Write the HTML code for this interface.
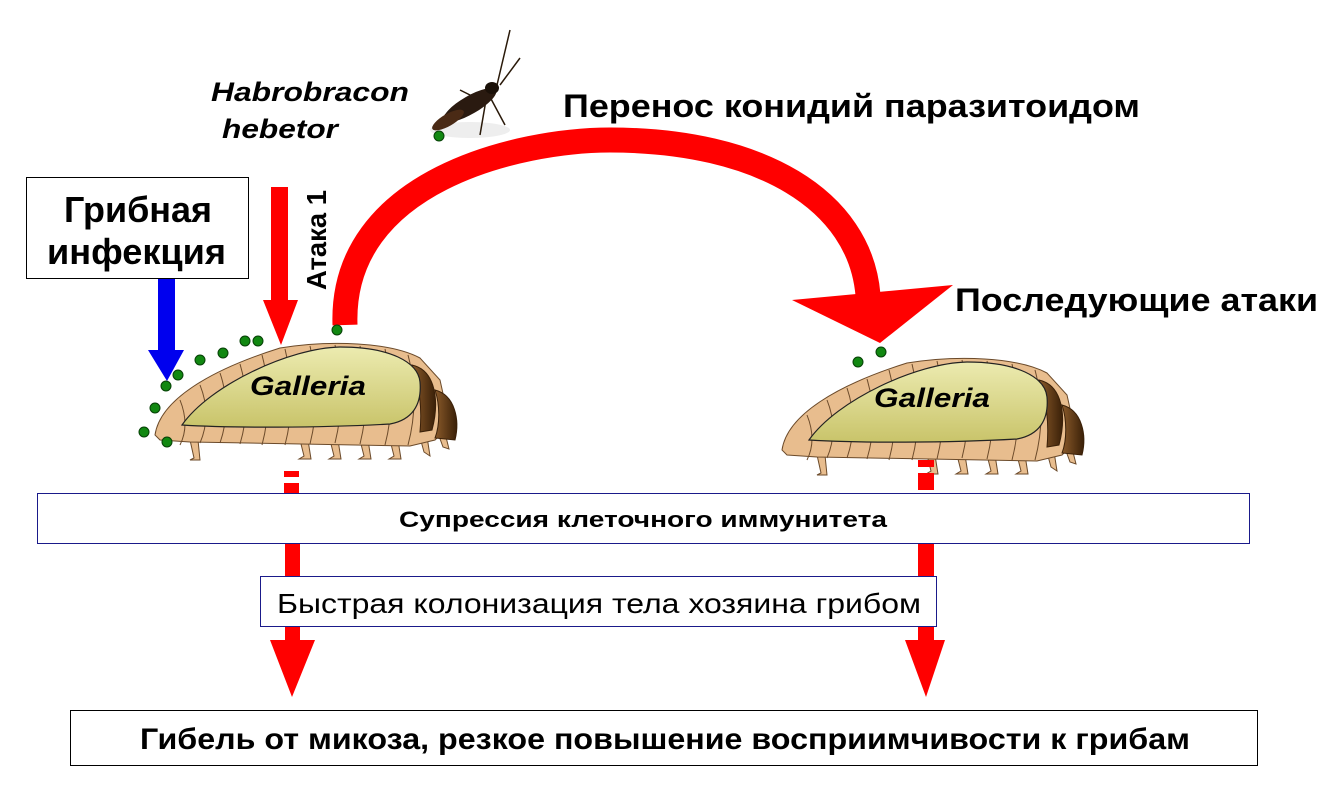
<!DOCTYPE html>
<html><head><meta charset="utf-8"><style>
body{margin:0;background:#fff}
svg{display:block}
text{font-family:"Liberation Sans",Arial,sans-serif}
</style></head><body>
<svg width="1320" height="802" viewBox="0 0 1320 802" xmlns="http://www.w3.org/2000/svg">
<defs>
<linearGradient id="yl" x1="0" y1="0" x2="0" y2="1"><stop offset="0" stop-color="#ecebb0"/><stop offset="1" stop-color="#c9c46a"/></linearGradient>
<linearGradient id="br" x1="0" y1="0" x2="1" y2="0"><stop offset="0" stop-color="#8a5a2a"/><stop offset="1" stop-color="#3a2008"/></linearGradient>
<g id="cat">
  <g stroke="#6b4a2a" stroke-width="1" fill="#e8bd8e">
    <path d="M40,100 l4,18 l-4,2 l10,0 l-2,-20z"/>
    <path d="M150,100 l4,16 l-5,3 l12,0 l-3,-19z"/>
    <path d="M180,100 l4,16 l-5,3 l12,0 l-3,-19z"/>
    <path d="M210,100 l4,16 l-5,3 l12,0 l-3,-19z"/>
    <path d="M240,100 l4,16 l-5,3 l12,0 l-3,-19z"/>
    <path d="M268,90 l6,22 l6,4 l-4,-26z"/>
    <path d="M285,85 l8,22 l6,2 l-6,-24z"/>
    <path d="M5,95 C10,60 60,30 130,8 C180,0 240,2 270,18 L290,40 L300,85 L285,100 L260,106 L40,102 L10,100 Z"/>
    <path d="M30,60 q10,25 0,45 M50,45 q12,30 0,58 M70,33 q12,35 0,70 M90,24 q12,40 0,80 M112,15 q12,45 0,90 M135,9 q12,50 0,96 M160,6 q12,50 0,98 M185,5 q12,50 0,98 M210,6 q12,50 0,98 M235,9 q12,50 0,96 M258,15 q12,45 0,90" fill="none"/>
  </g>
  <path d="M262,25 C285,30 290,60 282,90 L270,92 C272,70 270,45 262,25Z" fill="url(#br)" stroke="#3a2008"/>
  <path d="M285,50 C305,55 310,80 305,100 L285,98 C290,85 290,65 285,50Z" fill="url(#br)" stroke="#3a2008"/>
  <path d="M32,85 C60,45 140,8 190,7 C240,7 268,22 270,42 C272,65 262,80 240,84 C170,88 80,88 32,85Z" fill="url(#yl)" stroke="#222" stroke-width="1.2"/>
</g>
</defs>

<!-- wasp -->
<ellipse cx="470" cy="130" rx="40" ry="8" fill="#eee"/>
<g stroke="#2a1a0a" fill="none" stroke-width="1.5">
  <path d="M497,85 L510,30 M500,85 L520,58"/>
  <path d="M470,100 L445,115 M480,100 L460,90 M486,100 L480,135 M490,97 L505,125"/>
</g>
<ellipse cx="470" cy="105" rx="30" ry="9" fill="#2a1a10" transform="rotate(-30 470 105)"/>
<ellipse cx="448" cy="120" rx="18" ry="6" fill="#4a2a15" transform="rotate(-30 448 120)"/>
<ellipse cx="492" cy="88" rx="7" ry="6" fill="#1a1008"/>
<circle cx="439" cy="136" r="5" fill="#118811" stroke="#064006"/>

<text x="211" y="101" font-size="27" font-weight="bold" font-style="italic" textLength="198" lengthAdjust="spacingAndGlyphs">Habrobracon</text>
<text x="222" y="138" font-size="27" font-weight="bold" font-style="italic" textLength="116" lengthAdjust="spacingAndGlyphs">hebetor</text>
<text x="563" y="117" font-size="32" font-weight="bold" textLength="577" lengthAdjust="spacingAndGlyphs">Перенос конидий паразитоидом</text>

<rect x="26.5" y="177.5" width="222" height="101" fill="#fff" stroke="#000"/>
<text x="64" y="222" font-size="36" font-weight="bold" textLength="148" lengthAdjust="spacingAndGlyphs">Грибная</text>
<text x="47" y="264" font-size="36" font-weight="bold" textLength="179" lengthAdjust="spacingAndGlyphs">инфекция</text>

<!-- blue arrow -->
<path d="M158,279 H175 V350 H184 L167,381 L148,350 H158Z" fill="#0000ee"/>
<!-- red arrow attack 1 -->
<path d="M271,187 H288 V300 H298 L281,345 L263,300 H271Z" fill="#ff0000"/>
<text transform="translate(326,290) rotate(-90)" font-size="28" font-weight="bold" textLength="100" lengthAdjust="spacingAndGlyphs">Атака 1</text>

<!-- arc -->
<path d="M345,325 C340,180 520,140 610,140 C760,140 860,200 868,295" fill="none" stroke="#ff0000" stroke-width="25"/>
<path d="M792,300 L953,285 L880,343Z" fill="#ff0000"/>
<circle cx="337" cy="330" r="5" fill="#118811" stroke="#064006"/>
<text x="955" y="311" font-size="32" font-weight="bold" textLength="363" lengthAdjust="spacingAndGlyphs">Последующие атаки</text>

<use href="#cat" x="150" y="340"/>
<use href="#cat" x="777" y="355"/>
<text x="250" y="395" font-size="27" font-weight="bold" font-style="italic" textLength="116" lengthAdjust="spacingAndGlyphs">Galleria</text>
<text x="874" y="407" font-size="27" font-weight="bold" font-style="italic" textLength="116" lengthAdjust="spacingAndGlyphs">Galleria</text>

<g fill="#118811" stroke="#064006">
<circle cx="245" cy="341" r="5"/><circle cx="258" cy="341" r="5"/><circle cx="223" cy="353" r="5"/><circle cx="200" cy="360" r="5"/>
<circle cx="178" cy="375" r="5"/><circle cx="166" cy="386" r="5"/><circle cx="155" cy="408" r="5"/><circle cx="144" cy="432" r="5"/><circle cx="167" cy="442" r="5"/>
<circle cx="858" cy="362" r="5"/><circle cx="881" cy="352" r="5"/>
</g>

<g fill="#ff0000">
<rect x="284" y="471" width="15" height="6"/><rect x="284" y="483" width="15" height="12"/>
<rect x="918" y="460" width="16" height="7"/><rect x="918" y="473" width="16" height="17"/>
<path d="M285,543 H300 V640 H315 L292,697 L270,640 H285Z"/>
<path d="M918,543 H934 V640 H945 L926,697 L905,640 H918Z"/>
</g>

<rect x="37.5" y="493.5" width="1212" height="50" fill="#fff" stroke="#1a1a8a"/>
<text x="399" y="527" font-size="22" font-weight="bold" textLength="488" lengthAdjust="spacingAndGlyphs">Супрессия клеточного иммунитета</text>

<rect x="260.5" y="576.5" width="676" height="50" fill="#fff" stroke="#1a1a8a"/>
<text x="277" y="613" font-size="28" textLength="644" lengthAdjust="spacingAndGlyphs">Быстрая колонизация тела хозяина грибом</text>

<rect x="70.5" y="710.5" width="1187" height="55" fill="#fff" stroke="#000"/>
<text x="140" y="749" font-size="30" font-weight="bold" textLength="1050" lengthAdjust="spacingAndGlyphs">Гибель от микоза, резкое повышение восприимчивости к грибам</text>
</svg>
</body></html>
